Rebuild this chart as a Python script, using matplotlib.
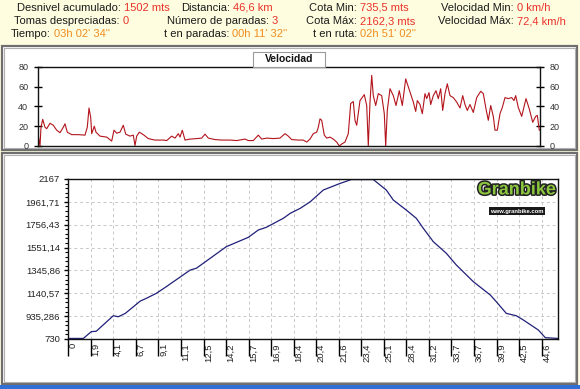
import matplotlib
matplotlib.use("Agg")
import matplotlib.pyplot as plt
import matplotlib.patheffects as pe
from matplotlib.patches import Rectangle
from matplotlib.ticker import AutoMinorLocator
from matplotlib.transforms import ScaledTranslation
import numpy as np

plt.rcParams['font.family'] = ['Liberation Sans', 'DejaVu Sans']

# summary values
info_rows = [
    [("Desnivel acumulado:", "1502 mts"), ("Distancia:", "46,6 km"),
     ("Cota Min:", "735,5 mts"), ("Velocidad Min:", "0 km/h")],
    [("Tomas despreciadas:", "0"), ("Número de paradas:", "3"),
     ("Cota Máx:", "2162,3 mts"), ("Velocidad Máx:", "72,4 km/h")],
    [("Tiempo:", "03h 02' 34''"), ("t en paradas:", "00h 11' 32''"),
     ("t en ruta:", "02h 51' 02''")],
]

# speed track (sample number, km/h)
speed_sample = [0, 2, 3, 4.7, 7, 8.7, 12, 15.3, 18.7, 22, 25.3, 27, 29.3, 33.7, 40.3, 47, 49.3, 51,
                52.7, 53.7, 56.3, 58, 62, 68.7, 73.7, 76, 78.7, 82, 85.3, 87.7, 92, 95.3, 97, 98.7,
                101.3, 105.3, 110.3, 117, 125.3, 128.7, 133.7, 137, 140.3, 142, 144.3, 147, 152,
                158.7, 163.7, 167, 170.3, 177, 183.7, 192, 198.7, 207, 210.3, 215.3, 220.3, 223.7,
                228.7, 235.3, 242, 247, 250.3, 253.7, 260.3, 265.3, 268.7, 272, 275.3, 278.7, 280.3,
                282, 283.7, 286.3, 288.7, 292, 295.3, 298.7, 301.3, 303.7, 307, 310.3, 312.7, 315.3,
                317, 318.7, 322, 326.3, 328.7, 330.3, 332, 333.7, 335.3, 337.7, 340.3, 343.7, 346.3,
                347.7, 349.3, 352, 355.3, 358, 361.3, 364.3, 367.7, 372, 375.3, 377.7, 379.3, 382,
                384.3, 387, 388.7, 391, 392.7, 395.3, 398, 400.3, 402.7, 404.7, 407, 409.3, 412,
                415.3, 418.7, 422, 424.7, 427, 429.3, 432, 435.3, 438.7, 442.7, 445.3, 448, 450.3,
                452.7, 455.3, 457, 459.3, 462, 464.3, 467, 470.3, 473.7, 476, 477.7, 480.3, 483.7,
                488, 491.3, 494.7, 497.7, 499.3, 501.3]
speed_kmh = [12, 0, 19, 27, 19, 17.5, 23, 21, 16, 13.5, 19, 22.5, 14, 11.5, 11.5, 11, 19, 38.5,
             29, 12.5, 20, 14, 10, 9, 5, 16, 13, 14, 21, 12, 10, 11, 0.5, 10,
             14, 11.5, 7.5, 6, 6, 5.5, 10, 8, 12.5, 9, 16, 6, 7,
             7.5, 8, 12, 8, 6.5, 6, 6, 5.5, 7, 5.5, 5.5, 11, 7,
             8, 7.5, 8, 12.5, 10, 6.5, 6, 6, 4, 7, 12.5, 14, 19,
             27.5, 26, 11, 8, 9, 7, 4, 0, 2, 4, 12.5, 43, 45,
             26, 21, 46, 52, 41, 0, 44.5, 71.5, 51, 41, 53, 51, 32.7,
             0, 36, 58, 51, 41, 56, 41, 68, 54.7, 44.5, 35, 46, 42,
             32.7, 53, 48, 54, 42, 51, 56, 48, 58, 36, 53, 63, 51,
             49, 44.5, 38.5, 51, 42, 36, 42, 34, 49, 55.4, 53, 37.5, 26,
             41, 30, 16, 16, 32.7, 39, 49, 48, 49, 46, 51, 39, 30,
             48, 37.5, 24, 30, 31, 16]

# elevation profile (sample number, metres)
elev_sample = [0, 15, 23, 28, 45, 50, 57, 72, 78, 88, 98, 122, 128, 158, 180, 190, 198, 215, 222,
               232, 242, 255, 272, 283, 305, 318, 325, 338, 348, 355, 365, 378, 388, 405, 422,
               428, 438, 448, 455, 470, 477, 490]
elev_m = [735, 735, 796, 800, 939, 930, 960, 1071, 1095, 1140, 1200, 1350, 1365, 1559, 1643, 1709,
          1733, 1814, 1859, 1904, 1963, 2068, 2128, 2162, 2162, 2068, 1978, 1888, 1814, 1724, 1604,
          1500, 1395, 1245, 1125, 1065, 960, 939, 901, 811, 742, 735]

dist_labels = ["0", "1,9", "4,1", "6,7", "9,1", "11,1", "12,5", "14,2", "15,7", "16,9", "18,4",
               "20,4", "21,6", "23,4", "25,1", "28,4", "31,2", "33,7", "36,7", "39,9", "42,5", "44,6"]
elev_tick_labels = ["730", "935,286", "1140,57", "1345,86", "1551,14", "1756,43", "1961,71", "2167"]

W, H = 580, 389
fig = plt.figure(figsize=(W / 100, H / 100), dpi=100)
fig.patch.set_facecolor('#fffde0')


def px(x, y, w, h):
    return [x / W, 1 - (y + h) / H, w / W, h / H]


# panel boxes (behind the axes)
for (bx, by, bw, bh) in [(2, 46, 575, 104), (2, 153, 575, 231)]:
    r = Rectangle((bx / W, 1 - (by + bh) / H), bw / W, bh / H, transform=fig.transFigure,
                  facecolor='white', edgecolor='#6e6e6e', linewidth=1.6, zorder=-10)
    fig.patches.append(r)
    r2 = Rectangle(((bx + 2) / W, 1 - (by + bh - 2) / H), (bw - 4) / W, (bh - 4) / H,
                   transform=fig.transFigure, facecolor='none', edgecolor='#b0b0b0',
                   linewidth=0.8, zorder=-9)
    fig.patches.append(r2)
fig.patches.append(Rectangle((0, 0), 1, 4 / H, transform=fig.transFigure,
                             facecolor='#2f6fd6', edgecolor='none', zorder=-10))

# header text
colon_x_row = [[121, 230, 357, 514], [120, 269, 357, 514], [51, 229, 357]]
row_y = [8, 21, 34]
for r, row in enumerate(info_rows):
    vcol = '#f08c1e' if r == 2 else '#e8322a'
    for c, (lab, val) in enumerate(row):
        x = colon_x_row[r][c]
        fig.text(x / W, 1 - row_y[r] / H, lab, ha='right', va='center', fontsize=8,
                 color='#1a1a1a')
        fig.text((x + 3) / W, 1 - row_y[r] / H, val, ha='left', va='center', fontsize=8,
                 color=vcol)

# speed chart
ax1 = fig.add_axes(px(38, 67, 502, 79))
ax1.plot(speed_sample, speed_kmh, color='#b3141c', linewidth=0.8)
ax1.set_xlim(0, 502)
ax1.set_ylim(0, 80)
ax1.set_yticks([0, 20, 40, 60, 80])
ax1.set_xticks([])
ax1.tick_params(axis='y', which='both', left=True, right=True, labelleft=True, labelright=True,
                direction='inout', length=6, width=1, labelsize=6.5, labelcolor='#333333', pad=4)
for s in ax1.spines.values():
    s.set_linewidth(1)
    s.set_color('#111111')

vbox = Rectangle((253 / W, 1 - 67 / H), 72 / W, 15 / H, transform=fig.transFigure,
                 facecolor='white', edgecolor='#9a9a9a', linewidth=0.8, zorder=5)
fig.patches.append(vbox)
fig.text(289 / W, 1 - 59.5 / H, "Velocidad", ha='center', va='center', fontsize=7.5,
         fontweight='bold', color='#111111', zorder=6)

# elevation chart
ax2 = fig.add_axes(px(68.3, 179, 490, 160))
ax2.plot(elev_sample, elev_m, color='#20207a', linewidth=0.9)
tick_step = 22.54
ax2.set_xlim(0, 490)
ax2.set_ylim(730, 2167)
ax2.set_xticks(np.arange(len(dist_labels)) * tick_step)
ax2.set_xticklabels(dist_labels, rotation=90, va='top', ha='center')
ytk = np.linspace(730, 2167, 8)
ax2.set_yticks(ytk)
ax2.set_yticklabels(elev_tick_labels)
ax2.yaxis.set_minor_locator(AutoMinorLocator(5))
ax2.tick_params(axis='x', direction='out', length=12, width=1, labelsize=6.8, pad=-9,
                labelcolor='#222222')
ax2.tick_params(axis='y', which='major', direction='out', length=3, width=1, labelsize=6.8,
                pad=3, labelcolor='#222222')
ax2.tick_params(axis='y', which='minor', direction='out', length=2, width=0.8)
off = ScaledTranslation(5 / 100, 0, fig.dpi_scale_trans)
for lbl in ax2.get_xticklabels():
    lbl.set_transform(lbl.get_transform() + off)
ax2.grid(True, which='major', color='#c8c8c8', linestyle=(0, (3, 3)), linewidth=0.7)
for s in ax2.spines.values():
    s.set_linewidth(1)
    s.set_color('#111111')

# logo
logo = ax2.text(0.915, 0.985, "Granbike", transform=ax2.transAxes, ha='center', va='top',
                fontsize=13, fontweight='bold', color='#8cc63f')
logo.set_path_effects([pe.Stroke(linewidth=2.2, foreground='#222222'), pe.Normal()])
ax2.text(0.915, 0.80, "www.granbike.com", transform=ax2.transAxes, ha='center', va='center',
         fontsize=4.2, color='white', fontweight='bold',
         bbox=dict(boxstyle='square,pad=0.2', facecolor='#1a1a1a', edgecolor='none'))

fig.savefig("out.png", dpi=100, facecolor=fig.get_facecolor())
